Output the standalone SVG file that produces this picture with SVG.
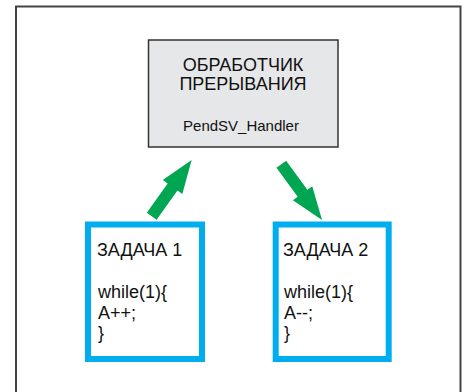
<svg xmlns="http://www.w3.org/2000/svg" width="464" height="392" viewBox="0 0 464 392">
<style>
.t{font-family:"Liberation Sans",Arial,sans-serif;fill:#111}
.h{font-size:18px;text-anchor:middle}
.s{font-size:15px;text-anchor:middle}
.k{font-size:18px}
.task{fill:#fff;stroke:#00aeef;stroke-width:6}
.arr{fill:#00a651}
</style>
<defs>
<polygon id="fat" points="0,-6 36,-6 36,-12 69,0 36,12 36,6 0,6"/>
</defs>
<rect x="0" y="0" width="464" height="392" fill="#fff"/>
<rect x="16" y="6.5" width="444.5" height="400" fill="#fff" stroke="#444" stroke-width="2"/>
<g id="handler">
<rect x="148.5" y="40" width="189.5" height="107" fill="#e6e7e8" stroke="#333" stroke-width="1.5"/>
<text class="t h" x="243" y="70.5">ОБРАБОТЧИК</text>
<text class="t h" x="243" y="89.5">ПРЕРЫВАНИЯ</text>
<text class="t s" x="241" y="131">PendSV_Handler</text>
</g>
<g id="task1">
<rect class="task" x="88" y="224.5" width="114" height="134.5"/>
<text class="t k" x="97" y="255.5">ЗАДАЧА 1</text>
<text class="t k" x="98" y="298">while(1){</text>
<text class="t k" x="98" y="319">A++;</text>
<text class="t k" x="98" y="339">}</text>
</g>
<g id="task2">
<rect class="task" x="275.7" y="224.5" width="113" height="134.5"/>
<text class="t k" x="283" y="255.5">ЗАДАЧА 2</text>
<text class="t k" x="284" y="298">while(1){</text>
<text class="t k" x="284" y="319">A--;</text>
<text class="t k" x="284" y="339">}</text>
</g>
<g id="connectors">
<use href="#fat" class="arr" transform="translate(151.7,216.3) rotate(-54.6)"/>
<use href="#fat" class="arr" transform="translate(281.3,164.2) rotate(53.8)"/>
</g>
</svg>
